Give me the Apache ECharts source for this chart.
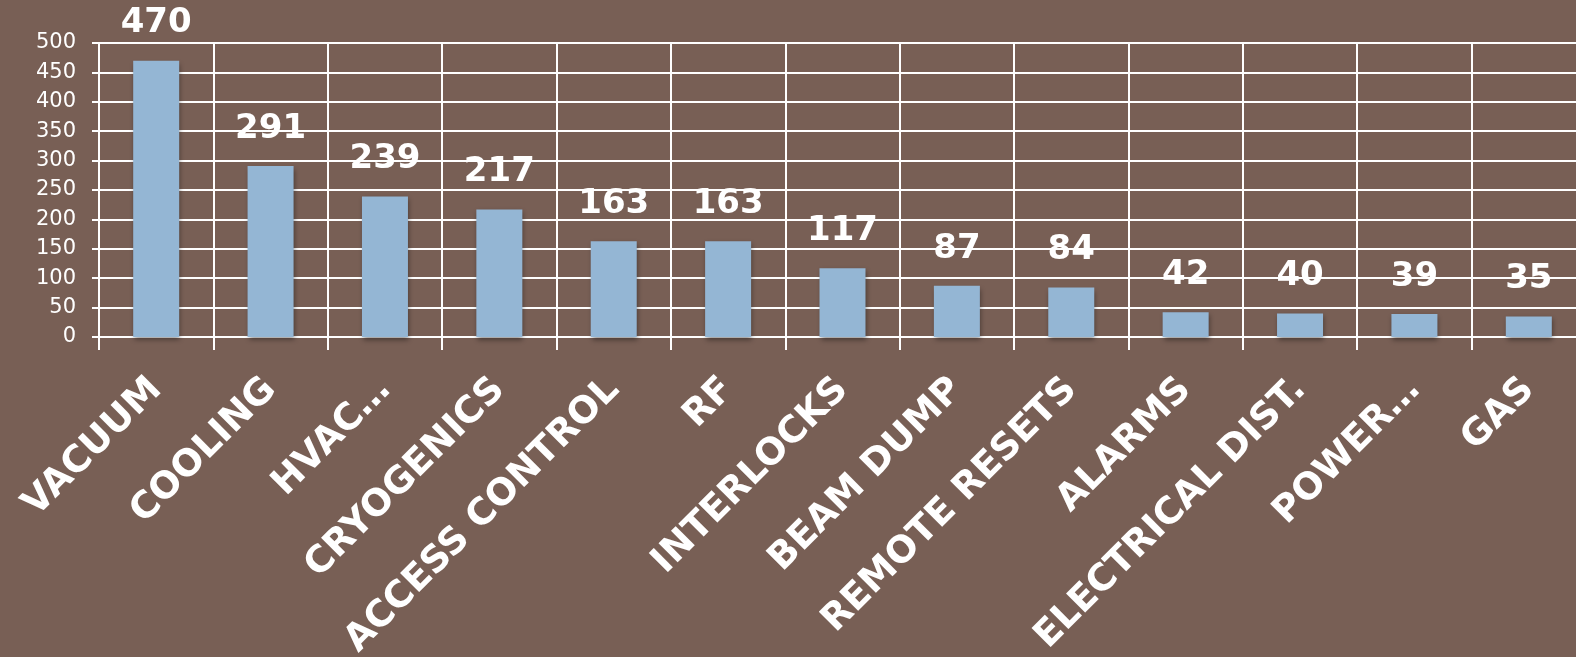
<!DOCTYPE html>
<html>
<head>
<meta charset="utf-8">
<script src="https://cdn.jsdelivr.net/npm/echarts@6/dist/echarts.min.js"></script>
<style>
html,body{margin:0;padding:0;background:#785F55;}
#chart{width:1576px;height:657px;}
</style>
</head>
<body>
<div id="chart"></div>
<script>
const categories = ["VACUUM","COOLING","HVAC…","CRYOGENICS","ACCESS CONTROL","RF","INTERLOCKS","BEAM DUMP","REMOTE RESETS","ALARMS","ELECTRICAL DIST.","POWER…","GAS"];
const values = [470,291,239,217,163,163,117,87,84,42,40,39,35];
const yTicks = {min:0, max:500, interval:50};

const chart = echarts.init(document.getElementById('chart'));
chart.setOption({
  backgroundColor:'#785F55',
  animation:false,
  grid:{left:99, top:43, bottom:320, right:-10, containLabel:false, outerBoundsMode:'none'},
  xAxis:{
    type:'category',
    data:categories,
    axisLine:{lineStyle:{color:'#ffffff', width:2}},
    axisTick:{show:true, length:13, lineStyle:{color:'#ffffff', width:2}},
    splitLine:{show:true, lineStyle:{color:'#ffffff', width:2}},
    axisLabel:{
      interval:0, rotate:45, margin:47,
      color:'#ffffff', fontSize:37, fontWeight:'bold',
      fontFamily:'"DejaVu Sans", sans-serif'
    }
  },
  yAxis:{
    type:'value',
    min:yTicks.min, max:yTicks.max, interval:yTicks.interval,
    axisLine:{show:true, lineStyle:{color:'#ffffff', width:2}},
    axisTick:{show:true, length:7, lineStyle:{color:'#ffffff', width:2}},
    splitLine:{show:true, lineStyle:{color:'#ffffff', width:2}},
    axisLabel:{color:'#ffffff', fontSize:21, margin:23, fontFamily:'"DejaVu Sans", sans-serif'}
  },
  series:[{
    type:'bar',
    data:values,
    barWidth:46,
    itemStyle:{
      color:'#94B6D4',
      shadowColor:'rgba(0,0,0,0.4)', shadowBlur:5, shadowOffsetX:1, shadowOffsetY:3
    },
    label:{
      show:true, position:'top', distance:20,
      color:'#ffffff', fontSize:34, fontWeight:'bold',
      fontFamily:'"DejaVu Sans", sans-serif'
    }
  }]
});
</script>
</body>
</html>
